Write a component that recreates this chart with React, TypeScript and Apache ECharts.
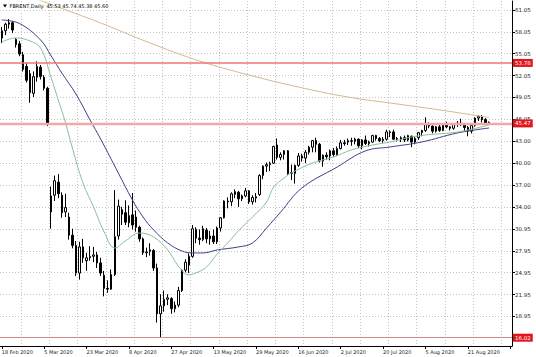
import React, { useEffect, useRef } from 'react';
import * as echarts from 'echarts';

const symbol = 'FBRENT';
const period = 'Daily';

const dates = [
  '18 Feb 2020','19 Feb 2020','20 Feb 2020','21 Feb 2020','24 Feb 2020','25 Feb 2020','26 Feb 2020','27 Feb 2020','28 Feb 2020',
  '2 Mar 2020','3 Mar 2020','4 Mar 2020','5 Mar 2020','6 Mar 2020','9 Mar 2020','10 Mar 2020','11 Mar 2020','12 Mar 2020','13 Mar 2020',
  '16 Mar 2020','17 Mar 2020','18 Mar 2020','19 Mar 2020','20 Mar 2020','23 Mar 2020','24 Mar 2020','25 Mar 2020','26 Mar 2020','27 Mar 2020',
  '30 Mar 2020','31 Mar 2020','1 Apr 2020','2 Apr 2020','3 Apr 2020','6 Apr 2020','7 Apr 2020','8 Apr 2020','9 Apr 2020',
  '13 Apr 2020','14 Apr 2020','15 Apr 2020','16 Apr 2020','17 Apr 2020','20 Apr 2020','21 Apr 2020','22 Apr 2020','23 Apr 2020','24 Apr 2020',
  '27 Apr 2020','28 Apr 2020','29 Apr 2020','30 Apr 2020','1 May 2020','4 May 2020','5 May 2020','6 May 2020','7 May 2020','8 May 2020',
  '11 May 2020','12 May 2020','13 May 2020','14 May 2020','15 May 2020','18 May 2020','19 May 2020','20 May 2020','21 May 2020','22 May 2020',
  '25 May 2020','26 May 2020','27 May 2020','28 May 2020','29 May 2020','1 Jun 2020','2 Jun 2020','3 Jun 2020','4 Jun 2020','5 Jun 2020',
  '8 Jun 2020','9 Jun 2020','10 Jun 2020','11 Jun 2020','12 Jun 2020','15 Jun 2020','16 Jun 2020','17 Jun 2020','18 Jun 2020','19 Jun 2020',
  '22 Jun 2020','23 Jun 2020','24 Jun 2020','25 Jun 2020','26 Jun 2020','29 Jun 2020','30 Jun 2020','1 Jul 2020','2 Jul 2020','3 Jul 2020',
  '6 Jul 2020','7 Jul 2020','8 Jul 2020','9 Jul 2020','10 Jul 2020','13 Jul 2020','14 Jul 2020','15 Jul 2020','16 Jul 2020','17 Jul 2020',
  '20 Jul 2020','21 Jul 2020','22 Jul 2020','23 Jul 2020','24 Jul 2020','27 Jul 2020','28 Jul 2020','29 Jul 2020','30 Jul 2020','31 Jul 2020',
  '3 Aug 2020','4 Aug 2020','5 Aug 2020','6 Aug 2020','7 Aug 2020','10 Aug 2020','11 Aug 2020','12 Aug 2020','13 Aug 2020','14 Aug 2020',
  '17 Aug 2020','18 Aug 2020','19 Aug 2020','20 Aug 2020','21 Aug 2020','24 Aug 2020','25 Aug 2020','26 Aug 2020','27 Aug 2020','28 Aug 2020',
  '31 Aug 2020',
];

const opens = [
  57.2,58.2,59.1,59.3,57.0,56.4,54.9,53.3,52.3,
  49.6,51.8,53.2,51.8,50.3,33.3,35.6,37.4,35.6,33.3,
  32.6,30.1,28.7,24.9,28.5,26.6,27.0,27.2,27.4,26.3,
  24.6,22.8,22.7,24.7,30.0,33.6,33.2,31.8,32.9,
  32.6,31.2,29.6,27.7,27.9,28.0,25.6,19.3,20.4,21.3,
  21.4,20.0,20.5,22.5,25.3,26.0,27.2,30.9,29.7,29.5,
  30.8,29.6,30.0,29.2,31.1,32.5,34.8,34.7,35.7,36.0,
  35.1,35.5,36.2,34.7,35.2,35.7,38.3,39.6,39.8,40.0,
  42.5,40.8,41.2,41.7,38.6,38.6,39.7,41.0,40.7,41.5,
  42.2,43.1,42.6,40.3,41.1,41.0,41.7,41.2,42.0,42.8,
  42.9,43.1,43.0,43.3,42.4,43.2,42.7,42.9,43.8,43.4,
  43.1,43.3,44.3,44.3,43.3,43.3,43.5,43.2,43.7,42.9,
  43.5,44.2,44.5,45.3,45.1,44.4,45.0,44.5,45.4,45.0,
  44.8,45.4,45.5,45.3,44.9,44.4,45.2,46.2,46.4,46.0,
  45.53,
];
const highs = [
  58.7,59.3,59.8,59.5,57.2,56.8,55.3,53.8,52.8,
  52.6,54.0,53.5,52.1,50.5,36.8,38.3,38.5,36.0,35.8,
  33.2,31.0,29.3,29.2,29.6,27.7,28.6,28.5,27.8,27.0,
  25.2,23.9,25.4,36.3,35.0,34.0,34.9,34.2,35.9,
  33.5,31.4,29.8,28.4,29.0,28.2,26.2,22.0,22.5,22.0,
  21.6,21.0,23.0,25.4,26.8,27.6,31.5,31.2,30.9,31.4,
  31.1,30.7,30.9,31.3,32.6,34.9,35.3,36.0,36.4,36.2,
  35.7,36.6,36.3,35.6,35.9,38.5,39.7,40.1,40.2,42.4,
  43.4,41.5,41.8,41.8,39.8,39.8,41.4,41.3,41.8,42.4,
  43.2,43.5,42.8,41.2,41.5,41.9,42.1,42.3,43.2,43.2,
  43.4,43.5,43.5,43.4,43.3,43.8,43.1,43.9,43.9,43.6,
  43.6,44.6,44.5,44.6,43.6,43.7,43.8,43.9,43.8,43.6,
  44.3,44.6,46.3,45.6,45.2,45.1,45.5,45.5,45.7,45.1,
  45.4,45.8,46.1,45.4,45.1,45.3,46.3,46.6,46.6,46.2,
  45.74,
];
const lows = [
  56.5,57.6,58.5,57.9,55.9,54.7,52.6,51.1,48.3,
  49.1,51.2,51.5,50.0,45.1,31.0,34.8,35.2,32.5,32.6,
  29.5,28.3,24.5,24.0,26.3,25.2,26.6,26.4,25.6,24.5,
  21.7,22.2,22.6,24.5,29.5,31.5,31.5,31.2,30.9,
  30.6,29.2,27.4,27.1,27.3,25.2,18.1,16.02,19.6,20.5,
  19.3,19.5,20.2,22.3,25.0,24.9,27.0,29.0,28.8,29.3,
  29.0,28.8,28.9,28.9,30.6,32.4,33.8,34.1,35.2,34.0,
  34.8,35.3,34.4,34.3,34.6,35.5,37.8,38.8,38.9,39.9,
  40.5,40.4,40.5,38.4,37.7,37.2,39.5,40.2,40.0,41.2,
  41.5,41.5,40.1,39.5,40.5,40.4,40.9,41.0,41.9,42.4,
  42.5,42.4,42.6,42.1,41.9,42.5,42.3,42.8,43.1,42.9,
  42.8,43.1,43.6,43.2,43.0,42.9,42.9,43.0,42.2,42.6,
  43.2,43.7,44.3,44.8,44.1,44.2,44.3,44.4,44.8,44.5,
  44.6,45.0,45.1,44.4,43.7,44.1,45.0,45.8,45.6,45.3,
  45.38,
];
const closes = [
  58.2,59.1,59.3,58.3,56.3,55.0,52.9,51.4,49.7,
  51.9,53.3,51.9,50.3,45.4,35.5,37.6,35.8,33.2,33.9,
  30.1,28.7,24.9,28.5,27.0,27.0,27.2,27.4,26.3,24.9,
  22.8,22.7,24.7,29.9,34.1,33.0,31.9,32.8,31.5,
  31.2,29.6,27.7,27.8,28.1,25.6,19.3,20.4,21.3,21.5,
  20.0,20.5,22.5,25.3,26.4,27.2,31.0,29.7,29.5,31.0,
  29.6,30.0,29.2,31.1,32.5,34.8,34.7,35.8,36.1,35.1,
  35.5,36.2,34.7,35.3,35.4,38.3,39.6,39.8,40.0,42.3,
  40.8,41.2,41.7,38.6,38.7,39.7,41.0,40.7,41.5,42.2,
  43.1,42.6,40.3,41.1,40.9,41.7,41.2,42.0,42.8,42.7,
  43.1,43.0,43.3,42.4,43.2,42.7,42.9,43.8,43.4,43.1,
  43.3,44.3,44.2,43.3,43.4,43.5,43.2,43.8,42.9,43.4,
  44.2,44.5,45.3,45.1,44.4,45.0,44.5,45.4,45.0,44.8,
  45.4,45.5,45.3,44.9,44.4,45.2,46.2,46.4,46.0,45.5,
  45.60,
];

// moving averages: [bar index, price]
const slowMA: [number, number][] = [
  [0, 64.35],[14, 61.81],[28, 59.27],[42, 56.52],[56, 54.05],[70, 52.12],[84, 50.47],
  [98, 49.10],[112, 48.14],[126, 47.18],[137, 46.35],[138, 46.28],
];
const midMA: [number, number][] = [
  [0, 59.68],[5, 59.2],[11, 56.93],[14, 54.73],[17, 52.4],[21, 49.51],[25, 45.94],[28, 43.33],
  [33, 38.66],[37, 34.95],[40, 32.61],[43, 30.83],[47, 29.04],[51, 27.94],[54, 27.67],[57, 27.67],
  [61, 28.08],[67, 28.49],[71, 29.04],[75, 31.1],[79, 33.3],[85, 36.6],[95, 39.48],[103, 41.69],
  [110, 42.23],[119, 42.92],[129, 44.15],[138, 44.84],
];
const fastMA: [number, number][] = [
  [0, 56.66],[4, 57.21],[8, 56.8],[11, 55.83],[14, 51.71],[16, 48.69],[18, 45.66],[20, 42.09],
  [23, 37.28],[26, 33.98],[29, 30.55],[32, 28.35],[35, 29.31],[39, 30.41],[43, 29.86],[47, 28.08],
  [50, 25.88],[53, 24.64],[55, 24.92],[58, 25.74],[61, 27.53],[64, 29.04],[67, 30.69],[71, 32.61],
  [75, 34.67],[77, 36.73],[80, 37.97],[82, 38.66],[88, 40.03],[94, 40.86],[99, 41.82],[105, 42.5],
  [110, 42.92],[116, 43.6],[120, 43.88],[129, 44.29],[138, 45.25],
];

const priceTicks = [61.05, 58.05, 55.05, 52.05, 49.05, 46.05, 43.0, 40.0, 37.0, 34.0, 30.95, 27.95, 24.95, 21.95, 18.95];
const levelLines = [53.78, 45.47, 16.02];
const padBars = 6;

const FONT = '"DejaVu Sans", sans-serif';

export default function App() {
  const ref = useRef<HTMLDivElement>(null);
  useEffect(() => {
    if (!ref.current) return;
    const chart = echarts.init(ref.current, null, { renderer: 'svg' });
    const cats = [...dates, ...Array.from({ length: padBars }, () => '')];
    const candles = opens.map((o, i) => [o, closes[i], lows[i], highs[i]]);
    const last = opens.length - 1;
    const header = `${symbol},${period}: ${opens[last].toFixed(2)} ${highs[last].toFixed(2)} ${lows[last].toFixed(2)} ${closes[last].toFixed(2)}`;
    const levelStyles = [
      { color: '#ec7676', width: 1.5 },
      { color: '#f5a6a6', width: 2.4 },
      { color: '#d08a8a', width: 1 },
    ];
    const levelSeries = levelLines.map((v, k) => ({
      type: 'line',
      data: [],
      silent: true,
      markLine: {
        silent: true,
        symbol: 'none',
        animation: false,
        lineStyle: { type: 'solid', color: levelStyles[k].color, width: levelStyles[k].width, opacity: 1 },
        label: {
          show: true,
          position: 'end',
          formatter: () => v.toFixed(2),
          backgroundColor: '#e3141c',
          color: '#ffffff',
          fontSize: 5.5,
          fontFamily: FONT,
          padding: [1, 2, 1, 2],
          distance: 1,
        },
        data: [{ yAxis: v }],
      },
    }));
    chart.setOption({
      animation: false,
      backgroundColor: '#ffffff',
      grid: { left: 0, right: 24, top: 1, bottom: 11, containLabel: false, outerBoundsMode: 'none' },
      xAxis: {
        type: 'category',
        data: cats,
        boundaryGap: true,
        axisLine: { show: true, lineStyle: { color: '#000', width: 1 } },
        axisTick: { show: true, interval: 11, alignWithLabel: true, length: 3, lineStyle: { color: '#000' } },
        axisLabel: { interval: 11, align: 'left', margin: 3, fontSize: 5, fontFamily: FONT, color: '#222' },
        splitLine: {
          show: true,
          interval: (i: number) => i >= 6 && (i - 6) % 8 === 0,
          lineStyle: { color: '#c4c4c4', type: [1, 2], width: 1 },
        },
      },
      yAxis: {
        type: 'value',
        position: 'right',
        min: 14.88,
        max: 62.29,
        axisLine: { show: true, lineStyle: { color: '#000', width: 1 } },
        axisTick: { show: true, length: 3, customValues: priceTicks, lineStyle: { color: '#000' } },
        axisLabel: {
          customValues: priceTicks,
          formatter: (v: number) => v.toFixed(2),
          fontSize: 5.5,
          fontFamily: FONT,
          color: '#222',
          margin: 3,
        },
        splitLine: { show: true, lineStyle: { color: '#c4c4c4', type: [1, 2], width: 1 } },
      },
      series: [
        ...levelSeries,
        {
          type: 'candlestick',
          data: candles,
          barWidth: 2,
          itemStyle: { color: '#ffffff', color0: '#000000', borderColor: '#000000', borderColor0: '#000000', borderWidth: 1 },
        },
        {
          type: 'line', data: slowMA, smooth: 0.4, showSymbol: false, clip: true,
          lineStyle: { color: '#d4b98e', width: 1 },
        },
        {
          type: 'line', data: midMA, smooth: 0.4, showSymbol: false, clip: true,
          lineStyle: { color: '#3f3f86', width: 1 },
        },
        {
          type: 'line', data: fastMA, smooth: 0.4, showSymbol: false, clip: true,
          lineStyle: { color: '#86c19a', width: 1 },
        },
      ],
      graphic: [
        { type: 'polygon', shape: { points: [[3, 4.5], [7, 4.5], [5, 7.5]] }, style: { fill: '#000' }, z: 100 },
        {
          type: 'text', x: 9.5, y: 6, z: 100,
          style: { text: header, fontSize: 5, fontFamily: FONT, fill: '#000', verticalAlign: 'middle' },
        },
      ],
    });
    return () => chart.dispose();
  }, []);
  return <div ref={ref} style={{ position: 'fixed', left: 0, top: 0, width: 536, height: 357 }} />;
}
